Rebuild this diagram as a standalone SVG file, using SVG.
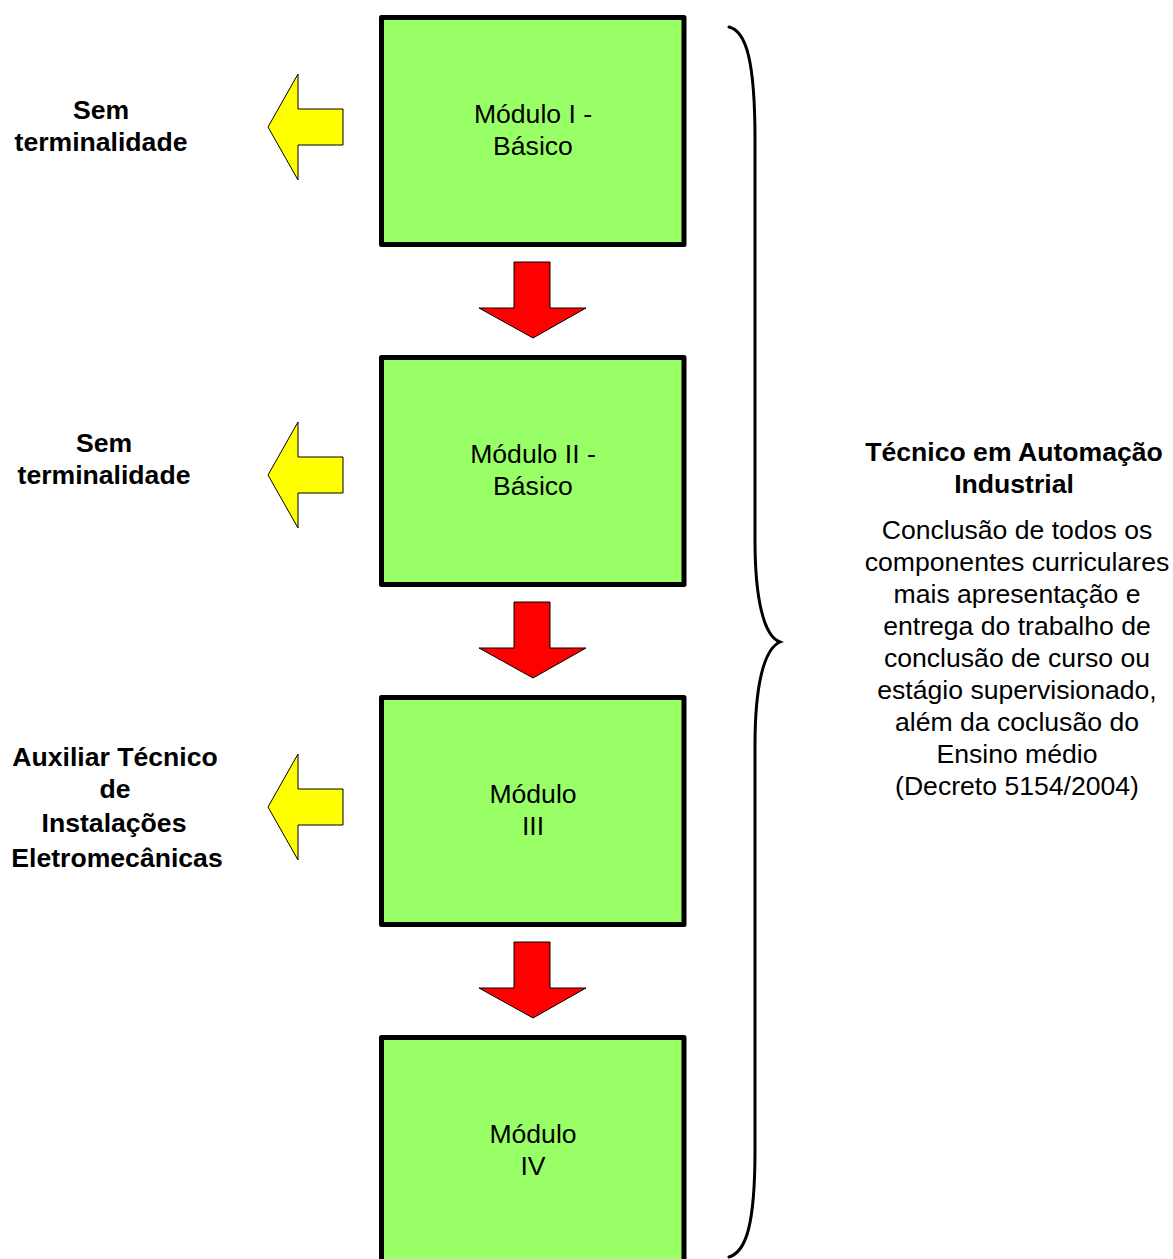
<svg xmlns="http://www.w3.org/2000/svg" width="1173" height="1259" viewBox="0 0 1173 1259">
<style>
.box{fill:#99FF66;stroke:#000;stroke-width:5;stroke-linejoin:round}
.ya{fill:#FFFF00;stroke:#000;stroke-width:1}
.ra{fill:#FF0000;stroke:#000;stroke-width:1}
.t{font-family:"Liberation Sans",Arial,sans-serif;font-size:26.6px;fill:#000;text-anchor:middle}
.b{font-weight:bold}
.brace{fill:none;stroke:#000;stroke-width:3;stroke-linecap:round}
</style>
<rect width="1173" height="1259" fill="#fff"/>
<g id="m1"><rect class="box" x="381.5" y="17.5" width="302.5" height="227"/>
<text class="t" x="533" y="123">Módulo I -</text><text class="t" x="533" y="155">Básico</text></g>
<g id="m2"><rect class="box" x="381.5" y="357.5" width="302.5" height="227"/>
<text class="t" x="533" y="463">Módulo II -</text><text class="t" x="533" y="495">Básico</text></g>
<g id="m3"><rect class="box" x="381.5" y="697.5" width="302.5" height="227"/>
<text class="t" x="533" y="803">Módulo</text><text class="t" x="533" y="835">III</text></g>
<g id="m4"><rect class="box" x="381.5" y="1037.5" width="302.5" height="227"/>
<text class="t" x="533" y="1143">Módulo</text><text class="t" x="533" y="1175">IV</text></g>
<g id="l1"><text class="t b" x="101" y="119">Sem</text><text class="t b" x="101" y="151">terminalidade</text></g>
<g id="l2"><text class="t b" x="104" y="452">Sem</text><text class="t b" x="104" y="484">terminalidade</text></g>
<g id="l3"><text class="t b" x="115" y="766">Auxiliar Técnico</text><text class="t b" x="115" y="798">de</text><text class="t b" x="114" y="832">Instalações</text><text class="t b" x="117" y="867">Eletromecânicas</text></g>
<g id="right"><text class="t b" x="1014" y="461">Técnico em Automação</text><text class="t b" x="1014" y="493">Industrial</text>
<text class="t" x="1017" y="539">Conclusão de todos os</text>
<text class="t" x="1017" y="571">componentes curriculares</text>
<text class="t" x="1017" y="603">mais apresentação e</text>
<text class="t" x="1017" y="635">entrega do trabalho de</text>
<text class="t" x="1017" y="667">conclusão de curso ou</text>
<text class="t" x="1017" y="699">estágio supervisionado,</text>
<text class="t" x="1017" y="731">além da coclusão do</text>
<text class="t" x="1017" y="763">Ensino médio</text>
<text class="t" x="1017" y="795">(Decreto 5154/2004)</text></g>
<g id="connectors">
<polygon class="ya" points="268,127 298,74 298,109 343,109 343,145 298,145 298,180"/>
<polygon class="ya" points="268,475 298,422 298,457 343,457 343,493 298,493 298,528"/>
<polygon class="ya" points="268,807 298,754 298,789 343,789 343,825 298,825 298,860"/>
<polygon class="ra" points="514,262 550,262 550,308 586,308 533,338 479,308 514,308"/>
<polygon class="ra" points="514,602 550,602 550,648 586,648 533,678 479,648 514,648"/>
<polygon class="ra" points="514,942 550,942 550,988 586,988 533,1018 479,988 514,988"/>
<path class="brace" d="M729,27 C746,31 755,60 755,140 L755,540 C755,600 764,636 780,642 C764,649 755,685 755,745 L755,1150 C755,1225 746,1252 729,1257"/>
</g>
</svg>
